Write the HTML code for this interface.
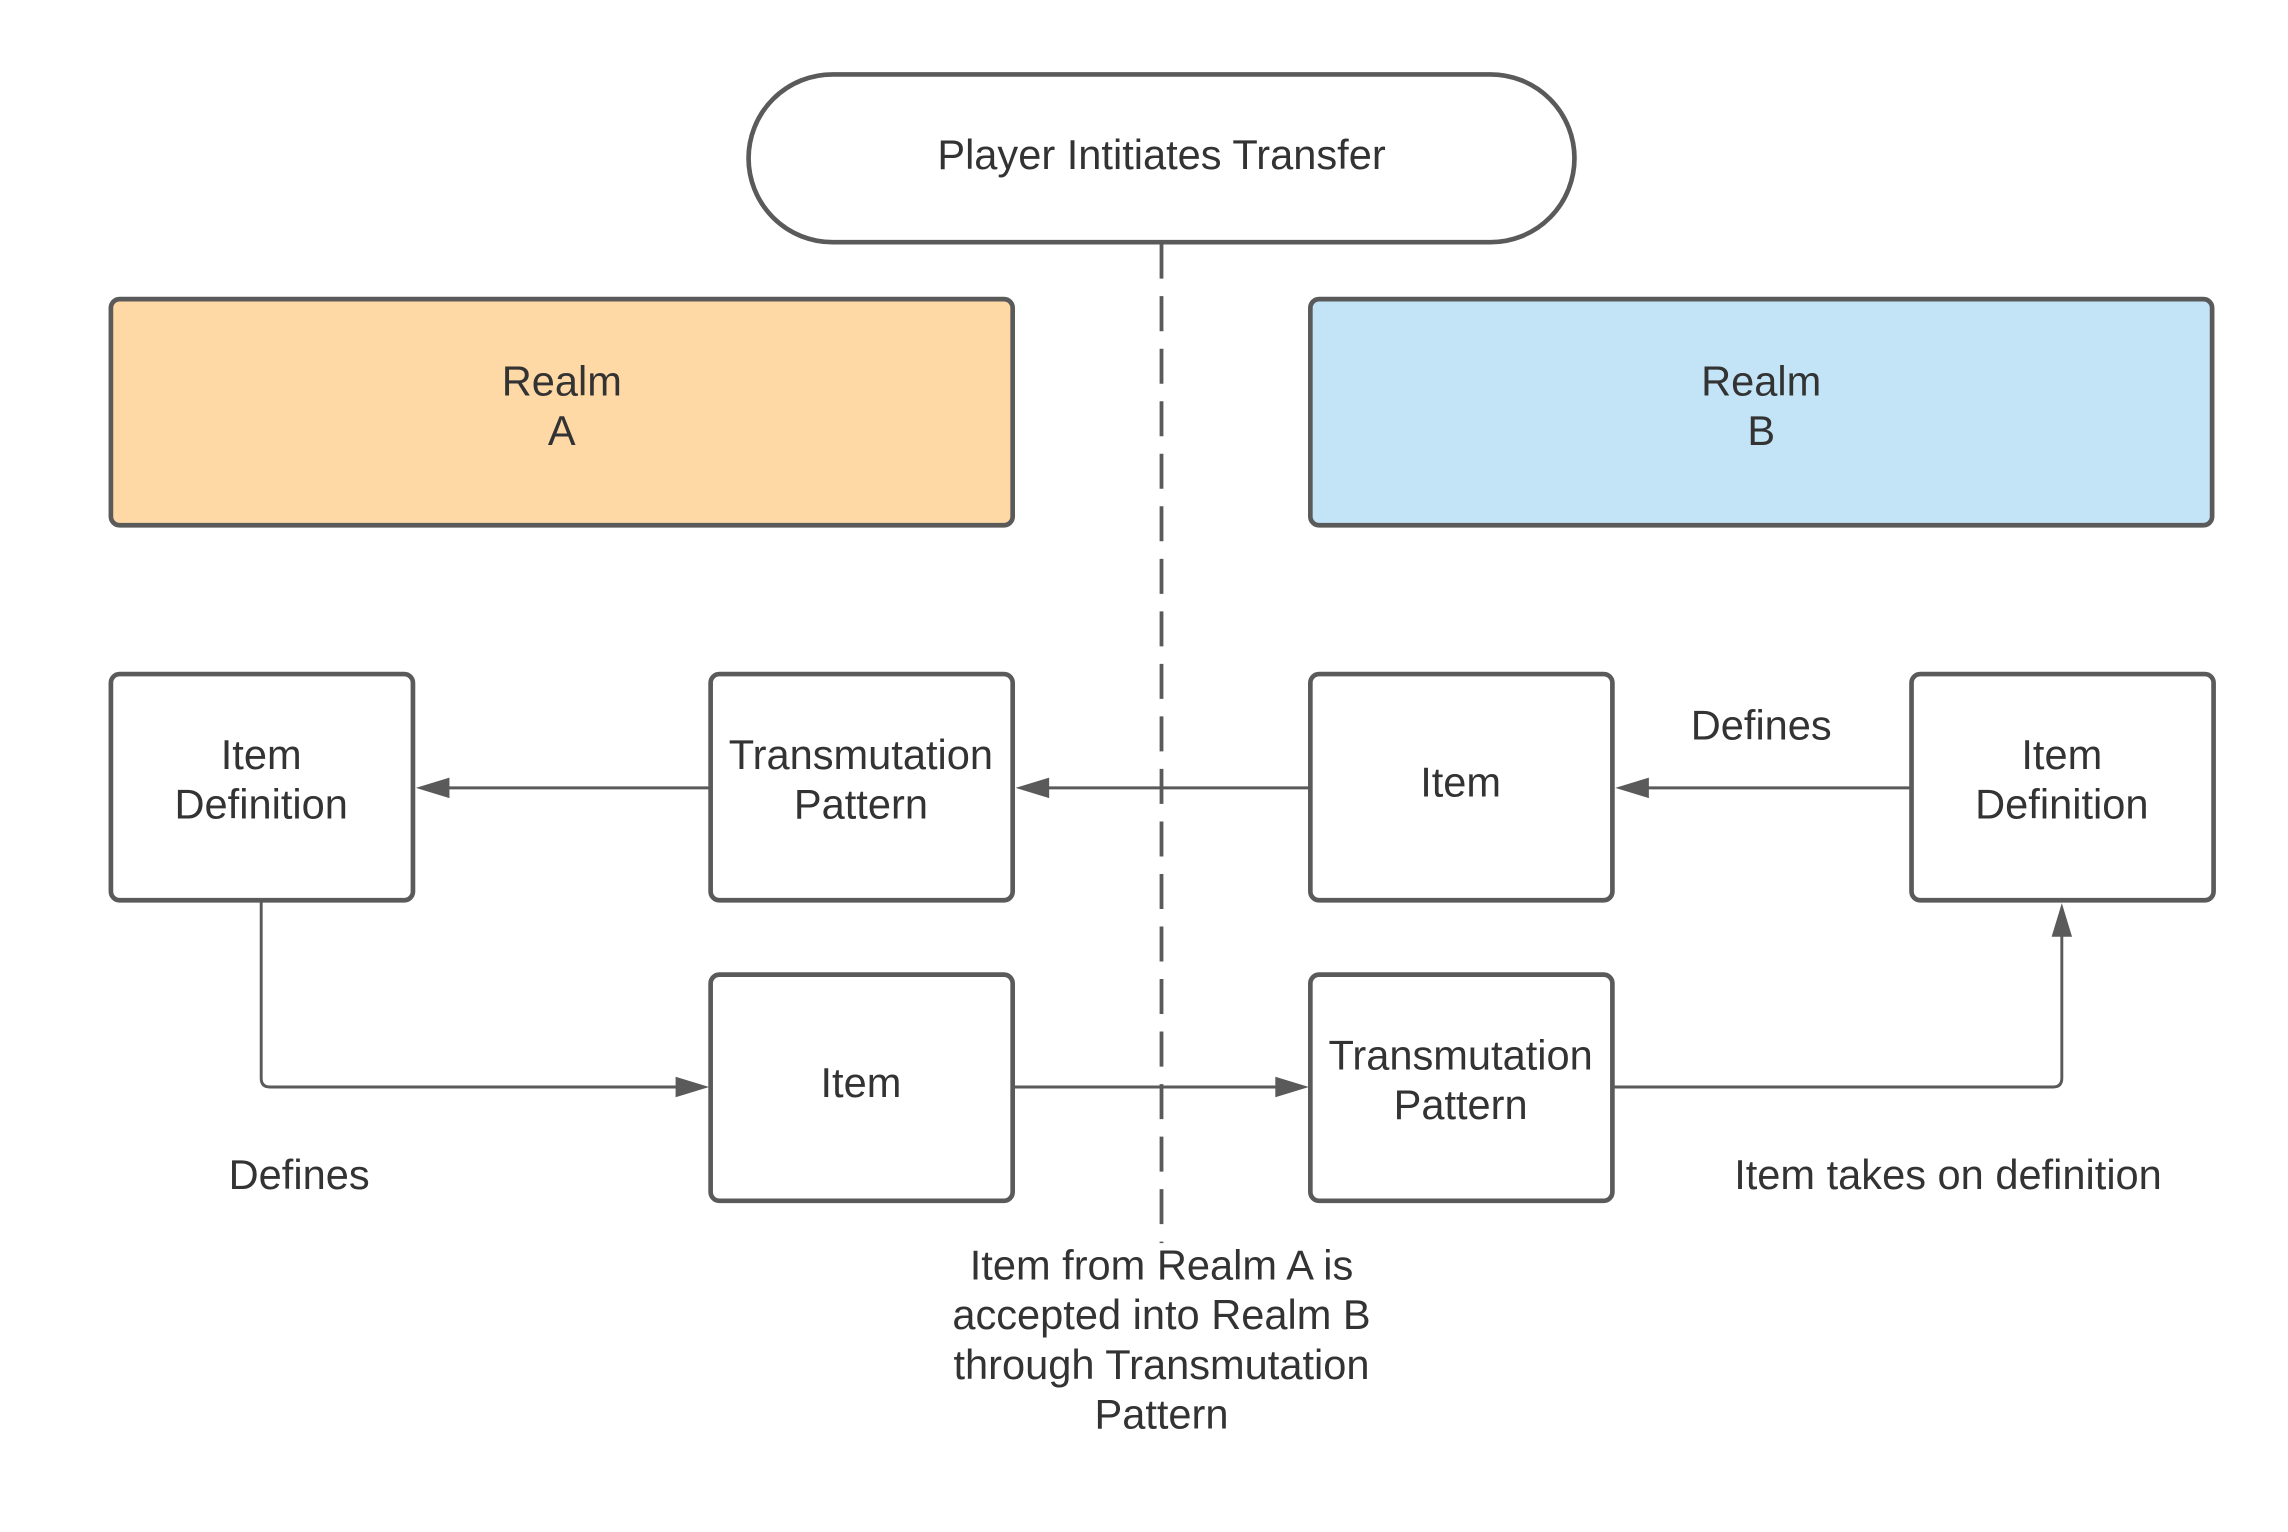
<!DOCTYPE html>
<html><head><style>html,body{margin:0;padding:0;background:#fff}svg{display:block}</style></head><body>
<svg width="2288" height="1532" viewBox="0 0 1568 1050" preserveAspectRatio="none" xmlns="http://www.w3.org/2000/svg">
<g fill="none" stroke="#5a5a5a" stroke-width="3.2">
<line x1="796" y1="167" x2="796" y2="852" stroke-width="2.6" stroke-dasharray="24,12"/>
<rect x="513" y="51" width="566" height="115" rx="57.5" fill="#fff"/>
<rect x="76" y="205" width="618" height="155" rx="6" fill="#fed9a6"/>
<rect x="898" y="205" width="618" height="155" rx="6" fill="#c2e4f6"/>
<rect x="76" y="462" width="207" height="155" rx="6" fill="#fff"/>
<rect x="487" y="462" width="207" height="155" rx="6" fill="#fff"/>
<rect x="898" y="462" width="207" height="155" rx="6" fill="#fff"/>
<rect x="1310" y="462" width="207" height="155" rx="6" fill="#fff"/>
<rect x="487" y="668" width="207" height="155" rx="6" fill="#fff"/>
<rect x="898" y="668" width="207" height="155" rx="6" fill="#fff"/>
<g stroke-width="2">
<line x1="487" y1="540" x2="300" y2="540"/>
<line x1="898" y1="540" x2="710" y2="540"/>
<line x1="1310" y1="540" x2="1122" y2="540"/>
<path d="M179,617 V739 Q179,745 185,745 H470"/>
<line x1="694" y1="745" x2="881" y2="745"/>
<path d="M1105,745 H1407 Q1413,745 1413,739 V635"/>
</g>
</g>
<g fill="#5a5a5a">
<path d="M285,540 L308,533 L308,547Z"/>
<path d="M696,540 L719,533 L719,547Z"/>
<path d="M1107,540 L1130,533 L1130,547Z"/>
<path d="M486,745 L463,738 L463,752Z"/>
<path d="M897,745 L874,738 L874,752Z"/>
<path d="M1413,619 L1406,642 L1420,642Z"/>
</g>
<g font-family="Liberation Sans, sans-serif" font-size="28.5" fill="#333" text-anchor="middle">
<text x="796" y="116">Player Intitiates Transfer</text>
<text x="385" y="271">Realm</text><text x="385" y="305">A</text>
<text x="1207" y="271">Realm</text><text x="1207" y="305">B</text>
<text x="179" y="527">Item</text><text x="179" y="561">Definition</text>
<text x="590" y="527">Transmutation</text><text x="590" y="561">Pattern</text>
<text x="1001" y="546">Item</text>
<text x="1413" y="527">Item</text><text x="1413" y="561">Definition</text>
<text x="590" y="752">Item</text>
<text x="1001" y="733">Transmutation</text><text x="1001" y="767">Pattern</text>
<text x="1207" y="507">Defines</text>
<text x="205" y="815">Defines</text>
<text x="1335" y="815">Item takes on definition</text>
<text x="796" y="877">Item from Realm A is</text>
<text x="796" y="911">accepted into Realm B</text>
<text x="796" y="945">through Transmutation</text>
<text x="796" y="979">Pattern</text>
</g>
</svg>
</body></html>
